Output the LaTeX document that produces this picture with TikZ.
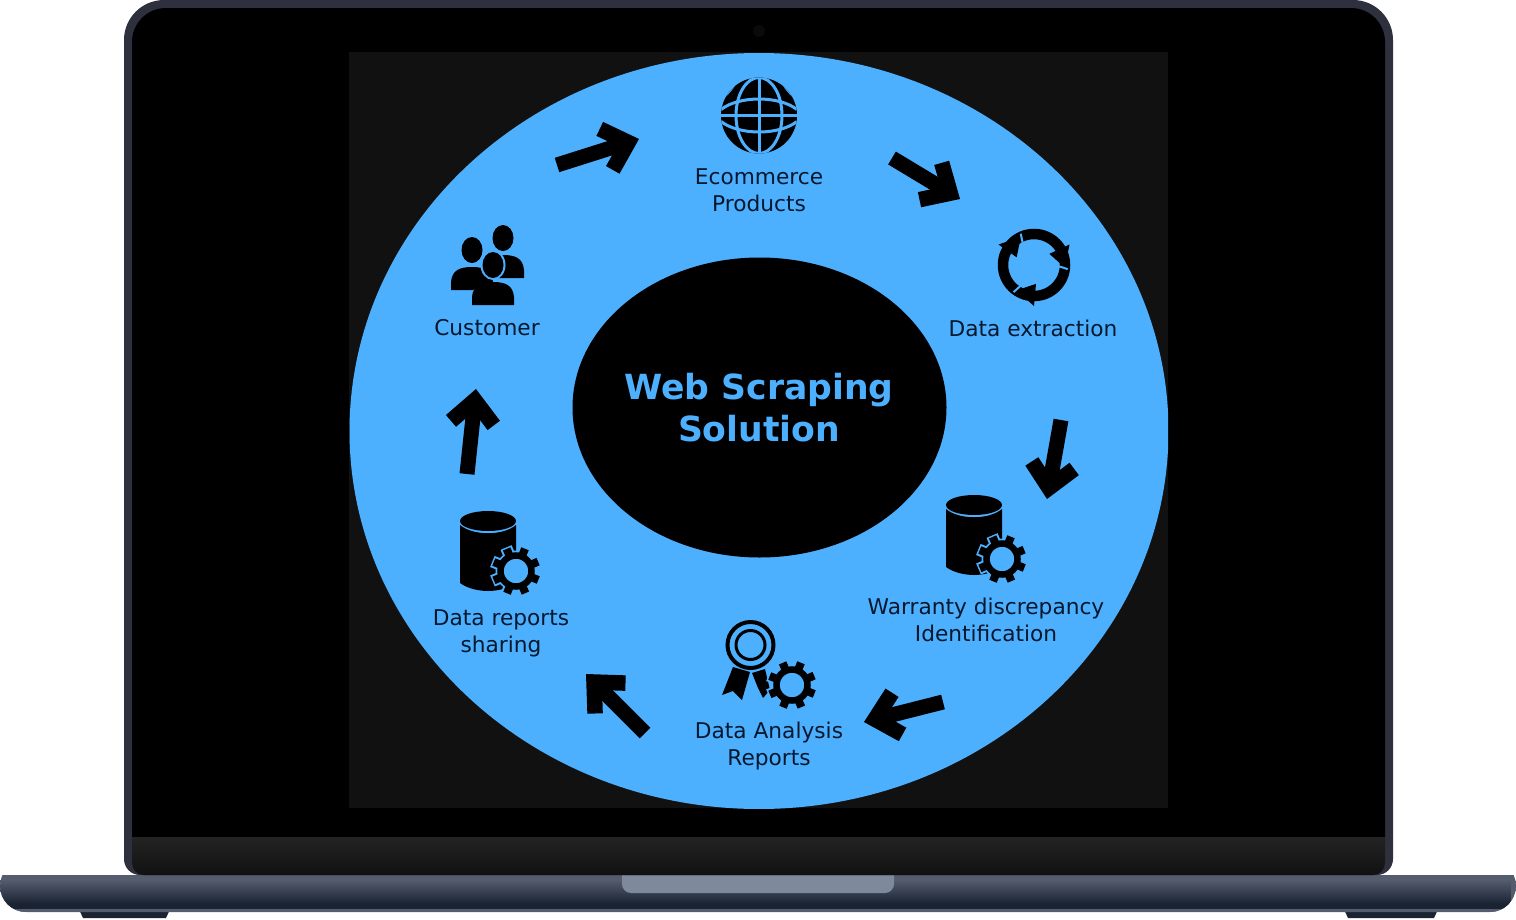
\documentclass[tikz,border=0pt]{standalone}
\usepackage{fontspec}
\setmainfont{DejaVu Sans}
\usetikzlibrary{arrows.meta,fadings}
\definecolor{skyfill}{HTML}{4DB0FF}
\definecolor{panelgrey}{HTML}{111111}
\definecolor{inktext}{HTML}{06182E}
\definecolor{lidrim}{HTML}{2E303E}
\definecolor{chinbar}{HTML}{232323}
\definecolor{notchgrey}{HTML}{7F899C}
\definecolor{basedark}{HTML}{1A2332}
\definecolor{basemid}{HTML}{545C6E}
\pgfdeclarehorizontalshading{baseshade}{100bp}{
  color(0bp)=(basemid!70!black);
  color(0.7bp)=(white!55!basemid);
  color(1.2bp)=(white!55!basemid);
  color(1.8bp)=(basemid!60!black);
  color(4bp)=(basedark);
  color(15bp)=(basemid);
  color(50bp)=(basemid);
  color(85bp)=(basemid);
  color(96bp)=(basedark);
  color(98.2bp)=(basemid!60!black);
  color(98.8bp)=(white!55!basemid);
  color(99.3bp)=(white!55!basemid);
  color(100bp)=(basemid!70!black)}
\tikzfading[name=fadedown,top color=transparent!100,bottom color=transparent!0]
\tikzset{
  caption/.style={text=inktext,font=\fontsize{21.7}{27}\selectfont,align=center},
  flowarrow/.style={line width=15pt,black,-{Straight Barb[length=23pt,width=43pt,line width=15.5pt]}},
}
\newcommand{\gearat}[2]{
  \foreach \ang in {0,45,...,315}
    \draw[skyfill,line width=12pt] ([shift={(#1,#2)}]\ang+22:17) -- ([shift={(#1,#2)}]\ang+22:25.5);
  \fill[skyfill] (#1,#2) circle (20.5);
  \foreach \ang in {0,45,...,315}
    \draw[black,line width=8pt] ([shift={(#1,#2)}]\ang+22:15) -- ([shift={(#1,#2)}]\ang+22:24);
  \draw[black,line width=6.5pt,fill=skyfill] (#1,#2) circle (15.5);
}
\newcommand{\dbat}[2]{
  \fill[black,shift={(#1,#2)}] (-28,4) -- (-28,62) .. controls (-20,68) and (-8,70) .. (0,70)
    .. controls (8,70) and (20,68) .. (28,62) -- (28,4) .. controls (15,15) and (-15,15) .. (-28,4);
  \fill[black] (#1,#2) ellipse (28 and 10);
}
\begin{document}
\begin{tikzpicture}[x=1pt,y=-1pt]
\useasboundingbox (0,0) rectangle (1516,919);
\fill[white] (0,0) rectangle (1516,919);
\fill[basedark] (77,905) -- (172,905) -- (166,918) -- (83,918) -- cycle;
\fill[basedark] (1342,905) -- (1440,905) -- (1434,918) -- (1348,918) -- cycle;
\begin{scope}
  \clip[rounded corners=26pt] (0,860) -- (0,912) -- (1516,912) -- (1516,860) -- cycle;
  \shade[shading=baseshade] (0,875) rectangle (1516,912);
  \fill[basedark,path fading=fadedown] (0,880) rectangle (1516,904);
  \fill[basedark] (0,904) rectangle (1516,909);
  \fill[basemid] (0,909) rectangle (1516,912);
  \fill[white] (0,860) rectangle (1516,875);
\end{scope}
\fill[notchgrey,rounded corners=9pt] (622,860) -- (622,893) -- (894,893) -- (894,860) -- cycle;
\fill[lidrim,rounded corners=40pt] (759,0) -- (1393,0) [rounded corners=16pt] -- (1393,875) -- (124,875) [rounded corners=40pt] -- (124,0) -- cycle;
\fill[black,rounded corners=34pt] (759,8) -- (1385,8) [sharp corners] -- (1385,837) -- (132,837) [rounded corners=34pt] -- (132,8) -- cycle;
\shade[top color=chinbar,bottom color=panelgrey,rounded corners=12pt] (132,837) [sharp corners] -- (1385,837) [rounded corners=12pt] -- (1385,875) -- (132,875) [sharp corners] -- cycle;
\fill[lidrim!20!black] (759,31) circle (6);
\fill[panelgrey] (349,52) rectangle (1168,808);
\begin{scope}
  \clip (349,52) rectangle (1168,808);
  \fill[skyfill] (759,431) ellipse (409.5 and 378);
\end{scope}
\fill[black] (759.5,407.5) ellipse (187 and 150);
\node[text=skyfill,font=\bfseries\fontsize{34.6}{42}\selectfont,align=center] (hub) at (759,407.5) {Web Scraping\\Solution};
\node[caption] (ecommerce) at (759,190) {Ecommerce\\Products};
\node[caption] (extraction) at (1033,328) {Data extraction};
\node[caption] (warranty) at (986,620) {Warranty discrepancy\\Identification};
\node[caption] (analysis) at (769,746.5) {Data Analysis\\Reports};
\node[caption] (sharing) at (501,633.5) {Data reports\\sharing};
\node[caption] (customer) at (487,328) {Customer};
\coordinate (a1) at (557,165); \coordinate (b1) at (639,139);
\coordinate (a2) at (892,158); \coordinate (b2) at (960,199);
\coordinate (a3) at (1061,420); \coordinate (b3) at (1047,499);
\coordinate (a4) at (943,702); \coordinate (b4) at (864,722);
\coordinate (a5) at (645,733); \coordinate (b5) at (586,674);
\coordinate (a6) at (467,474); \coordinate (b6) at (476,389);
\foreach \n in {1,...,6}
  \draw[flowarrow] (a\n) -- (b\n);
\begin{scope}[shift={(759,115.5)}]
  \fill[black] (0,0) circle (38);
  \clip (0,0) circle (38);
  \draw[skyfill,line width=3pt] (0,-38) -- (0,38) (-38,0) -- (38,0);
  \draw[skyfill,line width=3pt] (0,0) ellipse (23 and 38);
  \draw[skyfill,line width=3pt] (-38,-6) .. controls (-20,-20) and (20,-20) .. (38,-6);
  \draw[skyfill,line width=3pt] (-38,6) .. controls (-20,20) and (20,20) .. (38,6);
  \draw[skyfill,line width=3pt] (-34,-20) .. controls (-20,-34) and (-28,-32) .. (-18,-38);
  \draw[skyfill,line width=3pt] (34,-20) .. controls (20,-34) and (28,-32) .. (18,-38);
\end{scope}
\begin{scope}[shift={(1034,265)}]
  \draw[black,line width=10.5pt] (0,0) circle (31);
  \foreach \turn in {0,120,240} {
    \fill[black] (\turn-30:41) -- (\turn-36:19) -- (\turn+5:31) -- cycle;
    \draw[skyfill,line width=2pt] (\turn+3:25) -- (\turn+7:34);
  }
\end{scope}
\foreach \x/\y/\halo in {503/238/0,472/250/0,493/265/2} {
  \fill[skyfill] (\x,\y) ellipse ({10.5+\halo} and {13+\halo});
  \fill[skyfill] (\x-21-\halo,\y+40) -- (\x-21-\halo,\y+30) .. controls (\x-20,\y+18-\halo) and (\x+20,\y+18-\halo) .. (\x+21+\halo,\y+30) -- (\x+21+\halo,\y+40) -- cycle;
  \fill[black] (\x-21,\y+40) -- (\x-21,\y+32) .. controls (\x-20,\y+20) and (\x-12,\y+17) .. (\x,\y+17)
    .. controls (\x+12,\y+17) and (\x+20,\y+20) .. (\x+21,\y+32) -- (\x+21,\y+40) -- cycle;
  \fill[black] (\x,\y) ellipse (10.5 and 13);
}
\dbat{974}{505}
\gearat{1002}{559}
\dbat{488}{521}
\gearat{516}{571}
\draw[black,line width=4pt] (750.5,645) circle (23);
\draw[black,line width=3pt] (750.5,645) circle (14.5);
\fill[black] (733,667) -- (750,672) -- (742,700) -- (733,691) -- (722,695) -- cycle;
\fill[black] (752,673) -- (765,669) -- (770,690) -- (763,698) -- (758,688) -- cycle;
\gearat{792}{685}
\end{tikzpicture}
\end{document}
